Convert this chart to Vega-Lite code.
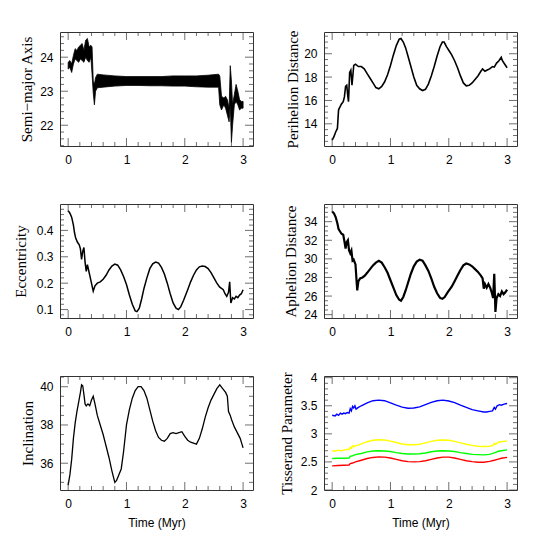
{
"$schema":"https://vega.github.io/schema/vega-lite/v6.json",
"autosize":{"type":"pad"},
"padding":{"left":12,"top":29,"right":5,"bottom":5},
"background":"white",
"config":{"view":{"stroke":"#333","strokeWidth":1},
"tick":{"color":"#333","thickness":1},
"axis":{"grid":false,"domain":false,"ticks":false,"labelFont":"Liberation Sans","labelFontSize":12,"labelColor":"#000","titleFont":"Liberation Serif","titleFontSize":15,"titleFontWeight":"normal","titleColor":"#000","labelOverlap":false,"labelFlush":false}},
"datasets":{
"xt":[{"x":0,"k":"major"},{"x":0.2,"k":"minor"},{"x":0.4,"k":"minor"},{"x":0.6,"k":"minor"},{"x":0.8,"k":"minor"},{"x":1,"k":"major"},{"x":1.2,"k":"minor"},{"x":1.4,"k":"minor"},{"x":1.6,"k":"minor"},{"x":1.8,"k":"minor"},{"x":2,"k":"major"},{"x":2.2,"k":"minor"},{"x":2.4,"k":"minor"},{"x":2.6,"k":"minor"},{"x":2.8,"k":"minor"},{"x":3,"k":"major"}],
"yt_sma":[{"y":21.4,"k":"minor"},{"y":21.6,"k":"minor"},{"y":21.8,"k":"minor"},{"y":22,"k":"major"},{"y":22.2,"k":"minor"},{"y":22.4,"k":"minor"},{"y":22.6,"k":"minor"},{"y":22.8,"k":"minor"},{"y":23,"k":"major"},{"y":23.2,"k":"minor"},{"y":23.4,"k":"minor"},{"y":23.6,"k":"minor"},{"y":23.8,"k":"minor"},{"y":24,"k":"major"},{"y":24.2,"k":"minor"},{"y":24.4,"k":"minor"},{"y":24.6,"k":"minor"}],
"yt_peri":[{"y":12.5,"k":"minor"},{"y":13,"k":"minor"},{"y":13.5,"k":"minor"},{"y":14,"k":"major"},{"y":14.5,"k":"minor"},{"y":15,"k":"minor"},{"y":15.5,"k":"minor"},{"y":16,"k":"major"},{"y":16.5,"k":"minor"},{"y":17,"k":"minor"},{"y":17.5,"k":"minor"},{"y":18,"k":"major"},{"y":18.5,"k":"minor"},{"y":19,"k":"minor"},{"y":19.5,"k":"minor"},{"y":20,"k":"major"},{"y":20.5,"k":"minor"},{"y":21,"k":"minor"},{"y":21.5,"k":"minor"}],
"yt_ecc":[{"y":0.08,"k":"minor"},{"y":0.1,"k":"major"},{"y":0.12,"k":"minor"},{"y":0.14,"k":"minor"},{"y":0.16,"k":"minor"},{"y":0.18,"k":"minor"},{"y":0.2,"k":"major"},{"y":0.22,"k":"minor"},{"y":0.24,"k":"minor"},{"y":0.26,"k":"minor"},{"y":0.28,"k":"minor"},{"y":0.3,"k":"major"},{"y":0.32,"k":"minor"},{"y":0.34,"k":"minor"},{"y":0.36,"k":"minor"},{"y":0.38,"k":"minor"},{"y":0.4,"k":"major"},{"y":0.42,"k":"minor"},{"y":0.44,"k":"minor"},{"y":0.46,"k":"minor"},{"y":0.48,"k":"minor"}],
"yt_aph":[{"y":24,"k":"major"},{"y":24.5,"k":"minor"},{"y":25,"k":"minor"},{"y":25.5,"k":"minor"},{"y":26,"k":"major"},{"y":26.5,"k":"minor"},{"y":27,"k":"minor"},{"y":27.5,"k":"minor"},{"y":28,"k":"major"},{"y":28.5,"k":"minor"},{"y":29,"k":"minor"},{"y":29.5,"k":"minor"},{"y":30,"k":"major"},{"y":30.5,"k":"minor"},{"y":31,"k":"minor"},{"y":31.5,"k":"minor"},{"y":32,"k":"major"},{"y":32.5,"k":"minor"},{"y":33,"k":"minor"},{"y":33.5,"k":"minor"},{"y":34,"k":"major"},{"y":34.5,"k":"minor"},{"y":35,"k":"minor"},{"y":35.5,"k":"minor"}],
"yt_inc":[{"y":35,"k":"minor"},{"y":35.5,"k":"minor"},{"y":36,"k":"major"},{"y":36.5,"k":"minor"},{"y":37,"k":"minor"},{"y":37.5,"k":"minor"},{"y":38,"k":"major"},{"y":38.5,"k":"minor"},{"y":39,"k":"minor"},{"y":39.5,"k":"minor"},{"y":40,"k":"major"},{"y":40.5,"k":"minor"}],
"yt_tis":[{"y":2,"k":"major"},{"y":2.1,"k":"minor"},{"y":2.2,"k":"minor"},{"y":2.3,"k":"minor"},{"y":2.4,"k":"minor"},{"y":2.5,"k":"major"},{"y":2.6,"k":"minor"},{"y":2.7,"k":"minor"},{"y":2.8,"k":"minor"},{"y":2.9,"k":"minor"},{"y":3,"k":"major"},{"y":3.1,"k":"minor"},{"y":3.2,"k":"minor"},{"y":3.3,"k":"minor"},{"y":3.4,"k":"minor"},{"y":3.5,"k":"major"},{"y":3.6,"k":"minor"},{"y":3.7,"k":"minor"},{"y":3.8,"k":"minor"},{"y":3.9,"k":"minor"},{"y":4,"k":"major"}],
"sma":[{"t":0,"lo":23.65,"hi":23.85},{"t":0.03,"lo":23.7,"hi":23.9},{"t":0.06,"lo":23.55,"hi":23.8},{"t":0.09,"lo":23.8,"hi":24.05},{"t":0.12,"lo":23.95,"hi":24.25},{"t":0.15,"lo":23.9,"hi":24.2},{"t":0.18,"lo":23.85,"hi":24.3},{"t":0.21,"lo":23.95,"hi":24.35},{"t":0.24,"lo":23.9,"hi":24.4},{"t":0.27,"lo":23.85,"hi":24.2},{"t":0.3,"lo":24.0,"hi":24.5},{"t":0.33,"lo":23.9,"hi":24.55},{"t":0.36,"lo":23.85,"hi":24.3},{"t":0.39,"lo":24.0,"hi":24.35},{"t":0.41,"lo":23.5,"hi":24.3},{"t":0.43,"lo":22.95,"hi":23.3},{"t":0.45,"lo":22.6,"hi":23.2},{"t":0.47,"lo":23.0,"hi":23.4},{"t":0.5,"lo":23.1,"hi":23.5},{"t":0.6,"lo":23.12,"hi":23.48},{"t":0.8,"lo":23.15,"hi":23.45},{"t":1.0,"lo":23.17,"hi":23.43},{"t":1.2,"lo":23.17,"hi":23.43},{"t":1.4,"lo":23.16,"hi":23.43},{"t":1.6,"lo":23.16,"hi":23.43},{"t":1.8,"lo":23.15,"hi":23.45},{"t":2.0,"lo":23.15,"hi":23.45},{"t":2.2,"lo":23.13,"hi":23.45},{"t":2.4,"lo":23.12,"hi":23.47},{"t":2.58,"lo":23.12,"hi":23.5},{"t":2.6,"lo":22.6,"hi":23.45},{"t":2.63,"lo":22.45,"hi":22.85},{"t":2.67,"lo":22.6,"hi":22.8},{"t":2.7,"lo":22.5,"hi":22.85},{"t":2.73,"lo":22.3,"hi":22.75},{"t":2.76,"lo":22.1,"hi":22.5},{"t":2.78,"lo":22.6,"hi":23.75},{"t":2.8,"lo":21.5,"hi":23.3},{"t":2.82,"lo":22.0,"hi":22.6},{"t":2.85,"lo":22.6,"hi":22.9},{"t":2.88,"lo":22.7,"hi":23.2},{"t":2.91,"lo":22.6,"hi":23.0},{"t":2.94,"lo":22.45,"hi":22.75},{"t":2.97,"lo":22.5,"hi":22.7},{"t":3.0,"lo":22.5,"hi":22.7}],
"peri":[{"t":0,"v":12.6},{"t":0.03,"v":12.9},{"t":0.06,"v":13.3},{"t":0.09,"v":13.6},{"t":0.11,"v":15.2},{"t":0.13,"v":15.4},{"t":0.16,"v":15.7},{"t":0.19,"v":15.9},{"t":0.21,"v":16.3},{"t":0.23,"v":17.2},{"t":0.25,"v":17.3},{"t":0.27,"v":16.3},{"t":0.28,"v":15.9},{"t":0.3,"v":18.4},{"t":0.32,"v":18.6},{"t":0.34,"v":17.3},{"t":0.37,"v":19.0},{"t":0.4,"v":19.1},{"t":0.45,"v":18.9},{"t":0.5,"v":18.9},{"t":0.55,"v":18.7},{"t":0.6,"v":18.3},{"t":0.65,"v":17.9},{"t":0.7,"v":17.5},{"t":0.75,"v":17.1},{"t":0.8,"v":17.0},{"t":0.85,"v":17.2},{"t":0.9,"v":17.6},{"t":0.95,"v":18.2},{"t":1.0,"v":19.0},{"t":1.05,"v":19.9},{"t":1.1,"v":20.7},{"t":1.15,"v":21.25},{"t":1.18,"v":21.3},{"t":1.22,"v":21.0},{"t":1.26,"v":20.5},{"t":1.3,"v":19.8},{"t":1.35,"v":18.9},{"t":1.4,"v":18.0},{"t":1.45,"v":17.3},{"t":1.5,"v":17.0},{"t":1.55,"v":16.85},{"t":1.6,"v":16.95},{"t":1.65,"v":17.4},{"t":1.7,"v":18.1},{"t":1.75,"v":18.9},{"t":1.8,"v":19.8},{"t":1.85,"v":20.6},{"t":1.89,"v":21.0},{"t":1.92,"v":21.0},{"t":1.96,"v":20.6},{"t":2.0,"v":20.3},{"t":2.05,"v":19.9},{"t":2.1,"v":19.4},{"t":2.15,"v":18.8},{"t":2.2,"v":18.1},{"t":2.25,"v":17.5},{"t":2.3,"v":17.25},{"t":2.35,"v":17.3},{"t":2.4,"v":17.5},{"t":2.45,"v":17.8},{"t":2.5,"v":18.1},{"t":2.55,"v":18.5},{"t":2.58,"v":18.7},{"t":2.62,"v":18.5},{"t":2.66,"v":18.6},{"t":2.7,"v":18.7},{"t":2.75,"v":18.9},{"t":2.78,"v":18.85},{"t":2.82,"v":19.2},{"t":2.86,"v":19.4},{"t":2.9,"v":19.7},{"t":2.92,"v":19.4},{"t":2.96,"v":19.1},{"t":3.0,"v":18.8}],
"ecc":[{"t":0,"v":0.475},{"t":0.03,"v":0.465},{"t":0.06,"v":0.45},{"t":0.09,"v":0.42},{"t":0.11,"v":0.39},{"t":0.13,"v":0.37},{"t":0.16,"v":0.355},{"t":0.19,"v":0.345},{"t":0.21,"v":0.33},{"t":0.23,"v":0.29},{"t":0.25,"v":0.32},{"t":0.27,"v":0.335},{"t":0.29,"v":0.28},{"t":0.31,"v":0.245},{"t":0.33,"v":0.27},{"t":0.35,"v":0.25},{"t":0.38,"v":0.22},{"t":0.41,"v":0.19},{"t":0.43,"v":0.17},{"t":0.46,"v":0.19},{"t":0.5,"v":0.2},{"t":0.55,"v":0.205},{"t":0.6,"v":0.215},{"t":0.65,"v":0.23},{"t":0.7,"v":0.25},{"t":0.75,"v":0.265},{"t":0.8,"v":0.272},{"t":0.85,"v":0.268},{"t":0.9,"v":0.25},{"t":0.95,"v":0.225},{"t":1.0,"v":0.195},{"t":1.05,"v":0.155},{"t":1.1,"v":0.12},{"t":1.15,"v":0.095},{"t":1.18,"v":0.092},{"t":1.22,"v":0.105},{"t":1.26,"v":0.14},{"t":1.3,"v":0.18},{"t":1.35,"v":0.22},{"t":1.4,"v":0.255},{"t":1.45,"v":0.273},{"t":1.5,"v":0.28},{"t":1.55,"v":0.276},{"t":1.6,"v":0.26},{"t":1.65,"v":0.235},{"t":1.7,"v":0.2},{"t":1.75,"v":0.16},{"t":1.8,"v":0.125},{"t":1.85,"v":0.105},{"t":1.89,"v":0.1},{"t":1.93,"v":0.11},{"t":1.98,"v":0.135},{"t":2.05,"v":0.175},{"t":2.1,"v":0.205},{"t":2.15,"v":0.23},{"t":2.2,"v":0.25},{"t":2.25,"v":0.262},{"t":2.3,"v":0.265},{"t":2.35,"v":0.263},{"t":2.4,"v":0.255},{"t":2.45,"v":0.24},{"t":2.5,"v":0.22},{"t":2.55,"v":0.2},{"t":2.6,"v":0.185},{"t":2.63,"v":0.18},{"t":2.66,"v":0.175},{"t":2.69,"v":0.16},{"t":2.72,"v":0.15},{"t":2.75,"v":0.165},{"t":2.77,"v":0.205},{"t":2.79,"v":0.125},{"t":2.82,"v":0.145},{"t":2.85,"v":0.14},{"t":2.88,"v":0.15},{"t":2.91,"v":0.145},{"t":2.94,"v":0.155},{"t":2.97,"v":0.16},{"t":3.0,"v":0.175}],
"aph":[{"t":0,"v":35.1},{"t":0.03,"v":34.9},{"t":0.06,"v":34.5},{"t":0.09,"v":33.8},{"t":0.11,"v":33.2},{"t":0.13,"v":33.0},{"t":0.16,"v":32.7},{"t":0.19,"v":32.6},{"t":0.21,"v":31.9},{"t":0.23,"v":31.1},{"t":0.25,"v":31.8},{"t":0.27,"v":32.0},{"t":0.29,"v":30.9},{"t":0.31,"v":30.6},{"t":0.33,"v":30.9},{"t":0.35,"v":29.8},{"t":0.37,"v":29.9},{"t":0.4,"v":29.4},{"t":0.42,"v":27.5},{"t":0.43,"v":26.6},{"t":0.45,"v":27.6},{"t":0.48,"v":27.9},{"t":0.52,"v":28.0},{"t":0.56,"v":28.2},{"t":0.6,"v":28.5},{"t":0.65,"v":28.9},{"t":0.7,"v":29.3},{"t":0.75,"v":29.6},{"t":0.8,"v":29.8},{"t":0.85,"v":29.6},{"t":0.9,"v":29.1},{"t":0.95,"v":28.5},{"t":1.0,"v":27.7},{"t":1.05,"v":26.9},{"t":1.1,"v":26.1},{"t":1.15,"v":25.6},{"t":1.18,"v":25.5},{"t":1.22,"v":25.9},{"t":1.26,"v":26.6},{"t":1.3,"v":27.4},{"t":1.35,"v":28.4},{"t":1.4,"v":29.2},{"t":1.45,"v":29.7},{"t":1.5,"v":29.9},{"t":1.55,"v":29.8},{"t":1.6,"v":29.3},{"t":1.65,"v":28.7},{"t":1.7,"v":27.9},{"t":1.75,"v":27.0},{"t":1.8,"v":26.3},{"t":1.85,"v":25.8},{"t":1.89,"v":25.7},{"t":1.93,"v":25.9},{"t":1.98,"v":26.4},{"t":2.05,"v":27.0},{"t":2.1,"v":27.6},{"t":2.15,"v":28.2},{"t":2.2,"v":28.8},{"t":2.25,"v":29.3},{"t":2.3,"v":29.5},{"t":2.35,"v":29.4},{"t":2.4,"v":29.2},{"t":2.45,"v":28.9},{"t":2.5,"v":28.6},{"t":2.55,"v":28.2},{"t":2.58,"v":27.9},{"t":2.6,"v":26.8},{"t":2.62,"v":27.3},{"t":2.65,"v":26.9},{"t":2.68,"v":27.3},{"t":2.71,"v":26.9},{"t":2.74,"v":26.3},{"t":2.76,"v":25.8},{"t":2.78,"v":28.4},{"t":2.8,"v":24.3},{"t":2.82,"v":25.8},{"t":2.85,"v":26.2},{"t":2.88,"v":26.0},{"t":2.91,"v":26.5},{"t":2.94,"v":26.2},{"t":2.97,"v":26.4},{"t":3.0,"v":26.7}],
"inc":[{"t":0,"v":34.85},{"t":0.03,"v":35.4},{"t":0.06,"v":36.2},{"t":0.09,"v":37.3},{"t":0.12,"v":38.1},{"t":0.15,"v":38.7},{"t":0.18,"v":39.2},{"t":0.21,"v":39.7},{"t":0.23,"v":40.1},{"t":0.25,"v":40.05},{"t":0.27,"v":39.6},{"t":0.29,"v":39.1},{"t":0.31,"v":39.0},{"t":0.34,"v":39.1},{"t":0.37,"v":39.0},{"t":0.4,"v":39.3},{"t":0.43,"v":39.5},{"t":0.46,"v":39.1},{"t":0.5,"v":38.5},{"t":0.55,"v":38.0},{"t":0.6,"v":37.5},{"t":0.65,"v":36.9},{"t":0.7,"v":36.3},{"t":0.75,"v":35.6},{"t":0.8,"v":35.0},{"t":0.83,"v":35.1},{"t":0.87,"v":35.4},{"t":0.91,"v":35.7},{"t":0.95,"v":36.6},{"t":1.0,"v":38.0},{"t":1.05,"v":38.8},{"t":1.1,"v":39.4},{"t":1.15,"v":39.8},{"t":1.2,"v":40.0},{"t":1.25,"v":40.0},{"t":1.3,"v":39.8},{"t":1.35,"v":39.4},{"t":1.4,"v":38.8},{"t":1.45,"v":38.2},{"t":1.5,"v":37.7},{"t":1.55,"v":37.35},{"t":1.6,"v":37.2},{"t":1.65,"v":37.15},{"t":1.7,"v":37.3},{"t":1.75,"v":37.55},{"t":1.8,"v":37.6},{"t":1.85,"v":37.55},{"t":1.9,"v":37.6},{"t":1.95,"v":37.65},{"t":2.0,"v":37.4},{"t":2.05,"v":37.2},{"t":2.1,"v":37.1},{"t":2.15,"v":37.05},{"t":2.2,"v":37.0},{"t":2.25,"v":37.3},{"t":2.3,"v":37.8},{"t":2.35,"v":38.4},{"t":2.4,"v":38.9},{"t":2.45,"v":39.3},{"t":2.5,"v":39.6},{"t":2.55,"v":39.9},{"t":2.6,"v":40.1},{"t":2.65,"v":39.9},{"t":2.7,"v":39.7},{"t":2.73,"v":39.5},{"t":2.75,"v":38.7},{"t":2.78,"v":38.5},{"t":2.8,"v":38.3},{"t":2.85,"v":37.9},{"t":2.9,"v":37.6},{"t":2.95,"v":37.3},{"t":3.0,"v":36.8}],
"tis":[
{"s":"a","t":0,"v":3.33},{"s":"a","t":0.05,"v":3.32},{"s":"a","t":0.08,"v":3.35},{"s":"a","t":0.11,"v":3.33},{"s":"a","t":0.14,"v":3.37},{"s":"a","t":0.17,"v":3.35},{"s":"a","t":0.2,"v":3.37},{"s":"a","t":0.23,"v":3.36},{"s":"a","t":0.26,"v":3.38},{"s":"a","t":0.29,"v":3.37},{"s":"a","t":0.31,"v":3.45},{"s":"a","t":0.33,"v":3.41},{"s":"a","t":0.35,"v":3.49},{"s":"a","t":0.37,"v":3.46},{"s":"a","t":0.39,"v":3.5},{"s":"a","t":0.41,"v":3.44},{"s":"a","t":0.45,"v":3.47},{"s":"a","t":0.5,"v":3.5},{"s":"a","t":0.6,"v":3.55},{"s":"a","t":0.7,"v":3.59},{"s":"a","t":0.8,"v":3.6},{"s":"a","t":0.9,"v":3.59},{"s":"a","t":1.0,"v":3.55},{"s":"a","t":1.1,"v":3.51},{"s":"a","t":1.2,"v":3.475},{"s":"a","t":1.3,"v":3.455},{"s":"a","t":1.4,"v":3.46},{"s":"a","t":1.5,"v":3.48},{"s":"a","t":1.6,"v":3.52},{"s":"a","t":1.7,"v":3.56},{"s":"a","t":1.8,"v":3.59},{"s":"a","t":1.9,"v":3.6},{"s":"a","t":2.0,"v":3.585},{"s":"a","t":2.1,"v":3.555},{"s":"a","t":2.2,"v":3.51},{"s":"a","t":2.3,"v":3.47},{"s":"a","t":2.4,"v":3.43},{"s":"a","t":2.5,"v":3.41},{"s":"a","t":2.6,"v":3.39},{"s":"a","t":2.65,"v":3.39},{"s":"a","t":2.7,"v":3.4},{"s":"a","t":2.75,"v":3.41},{"s":"a","t":2.78,"v":3.47},{"s":"a","t":2.8,"v":3.44},{"s":"a","t":2.83,"v":3.5},{"s":"a","t":2.87,"v":3.52},{"s":"a","t":2.9,"v":3.51},{"s":"a","t":2.95,"v":3.53},{"s":"a","t":3.0,"v":3.54},
{"s":"b","t":0,"v":2.7},{"s":"b","t":0.05,"v":2.69},{"s":"b","t":0.1,"v":2.71},{"s":"b","t":0.15,"v":2.7},{"s":"b","t":0.2,"v":2.71},{"s":"b","t":0.25,"v":2.72},{"s":"b","t":0.29,"v":2.72},{"s":"b","t":0.31,"v":2.76},{"s":"b","t":0.33,"v":2.74},{"s":"b","t":0.35,"v":2.79},{"s":"b","t":0.37,"v":2.77},{"s":"b","t":0.4,"v":2.79},{"s":"b","t":0.45,"v":2.8},{"s":"b","t":0.5,"v":2.82},{"s":"b","t":0.6,"v":2.86},{"s":"b","t":0.7,"v":2.885},{"s":"b","t":0.8,"v":2.895},{"s":"b","t":0.9,"v":2.89},{"s":"b","t":1.0,"v":2.87},{"s":"b","t":1.1,"v":2.845},{"s":"b","t":1.2,"v":2.82},{"s":"b","t":1.3,"v":2.805},{"s":"b","t":1.4,"v":2.805},{"s":"b","t":1.5,"v":2.815},{"s":"b","t":1.6,"v":2.84},{"s":"b","t":1.7,"v":2.865},{"s":"b","t":1.8,"v":2.885},{"s":"b","t":1.9,"v":2.89},{"s":"b","t":2.0,"v":2.885},{"s":"b","t":2.1,"v":2.865},{"s":"b","t":2.2,"v":2.84},{"s":"b","t":2.3,"v":2.815},{"s":"b","t":2.4,"v":2.795},{"s":"b","t":2.5,"v":2.78},{"s":"b","t":2.6,"v":2.775},{"s":"b","t":2.7,"v":2.78},{"s":"b","t":2.75,"v":2.79},{"s":"b","t":2.78,"v":2.83},{"s":"b","t":2.8,"v":2.81},{"s":"b","t":2.85,"v":2.85},{"s":"b","t":2.9,"v":2.86},{"s":"b","t":3.0,"v":2.875},
{"s":"c","t":0,"v":2.56},{"s":"c","t":0.1,"v":2.565},{"s":"c","t":0.2,"v":2.565},{"s":"c","t":0.29,"v":2.57},{"s":"c","t":0.31,"v":2.6},{"s":"c","t":0.35,"v":2.61},{"s":"c","t":0.4,"v":2.63},{"s":"c","t":0.5,"v":2.65},{"s":"c","t":0.6,"v":2.68},{"s":"c","t":0.7,"v":2.695},{"s":"c","t":0.8,"v":2.7},{"s":"c","t":0.9,"v":2.695},{"s":"c","t":1.0,"v":2.685},{"s":"c","t":1.1,"v":2.665},{"s":"c","t":1.2,"v":2.65},{"s":"c","t":1.3,"v":2.64},{"s":"c","t":1.4,"v":2.64},{"s":"c","t":1.5,"v":2.645},{"s":"c","t":1.6,"v":2.66},{"s":"c","t":1.7,"v":2.68},{"s":"c","t":1.8,"v":2.695},{"s":"c","t":1.9,"v":2.7},{"s":"c","t":2.0,"v":2.695},{"s":"c","t":2.1,"v":2.685},{"s":"c","t":2.2,"v":2.665},{"s":"c","t":2.3,"v":2.65},{"s":"c","t":2.4,"v":2.635},{"s":"c","t":2.5,"v":2.63},{"s":"c","t":2.6,"v":2.625},{"s":"c","t":2.7,"v":2.635},{"s":"c","t":2.78,"v":2.66},{"s":"c","t":2.85,"v":2.69},{"s":"c","t":2.9,"v":2.7},{"s":"c","t":3.0,"v":2.715},
{"s":"d","t":0,"v":2.43},{"s":"d","t":0.1,"v":2.435},{"s":"d","t":0.2,"v":2.44},{"s":"d","t":0.29,"v":2.445},{"s":"d","t":0.31,"v":2.47},{"s":"d","t":0.35,"v":2.48},{"s":"d","t":0.4,"v":2.5},{"s":"d","t":0.5,"v":2.53},{"s":"d","t":0.6,"v":2.56},{"s":"d","t":0.7,"v":2.58},{"s":"d","t":0.8,"v":2.59},{"s":"d","t":0.9,"v":2.585},{"s":"d","t":1.0,"v":2.57},{"s":"d","t":1.1,"v":2.545},{"s":"d","t":1.2,"v":2.52},{"s":"d","t":1.3,"v":2.505},{"s":"d","t":1.4,"v":2.5},{"s":"d","t":1.5,"v":2.505},{"s":"d","t":1.6,"v":2.52},{"s":"d","t":1.7,"v":2.545},{"s":"d","t":1.8,"v":2.57},{"s":"d","t":1.9,"v":2.585},{"s":"d","t":2.0,"v":2.585},{"s":"d","t":2.1,"v":2.57},{"s":"d","t":2.2,"v":2.545},{"s":"d","t":2.3,"v":2.52},{"s":"d","t":2.4,"v":2.505},{"s":"d","t":2.5,"v":2.495},{"s":"d","t":2.6,"v":2.495},{"s":"d","t":2.7,"v":2.51},{"s":"d","t":2.78,"v":2.53},{"s":"d","t":2.85,"v":2.55},{"s":"d","t":2.9,"v":2.565},{"s":"d","t":3.0,"v":2.58}]
},
"columns":2,
"bounds":"flush",
"spacing":{"row":58,"column":71},
"concat":[
{"width":193,"height":114,
"resolve":{"axis":{"x":"independent","y":"independent"}},
"layer":[
{"data":{"name":"sma"},"mark":{"type":"area","fill":"#000","stroke":"#000","strokeWidth":0.8},
"encoding":{
"x":{"field":"t","type":"quantitative","scale":{"domain":[-0.14,3.17],"nice":false,"zero":false},"axis":{"values":[0,1,2,3],"format":"d","labelPadding":8,"title":null}},
"y":{"field":"lo","type":"quantitative","scale":{"domain":[21.39,24.74],"nice":false,"zero":false},"axis":{"values":[22,23,24],"format":"d","labelPadding":7,"titlePadding":5,"title":"Semi−major Axis"}},
"y2":{"field":"hi"}}},
{"data":{"name":"xt"},"mark":{"type":"tick","orient":"vertical","clip":true},"encoding":{"x":{"field":"x","type":"quantitative","scale":{"domain":[-0.14,3.17],"nice":false,"zero":false},"axis":null},"y":{"datum":21.39,"type":"quantitative","scale":{"domain":[21.39,24.74],"nice":false,"zero":false},"axis":null},"size":{"field":"k","type":"ordinal","scale":{"domain":["major","minor"],"range":[16,8]},"legend":null}}},
{"data":{"name":"xt"},"mark":{"type":"tick","orient":"vertical","clip":true},"encoding":{"x":{"field":"x","type":"quantitative","scale":{"domain":[-0.14,3.17],"nice":false,"zero":false},"axis":null},"y":{"datum":24.74,"type":"quantitative","scale":{"domain":[21.39,24.74],"nice":false,"zero":false},"axis":null},"size":{"field":"k","type":"ordinal","scale":{"domain":["major","minor"],"range":[16,8]},"legend":null}}},
{"data":{"name":"yt_sma"},"mark":{"type":"tick","orient":"horizontal","clip":true},"encoding":{"y":{"field":"y","type":"quantitative","scale":{"domain":[21.39,24.74],"nice":false,"zero":false},"axis":null},"x":{"datum":-0.14,"type":"quantitative","scale":{"domain":[-0.14,3.17],"nice":false,"zero":false},"axis":null},"size":{"field":"k","type":"ordinal","scale":{"domain":["major","minor"],"range":[16,8]},"legend":null}}},
{"data":{"name":"yt_sma"},"mark":{"type":"tick","orient":"horizontal","clip":true},"encoding":{"y":{"field":"y","type":"quantitative","scale":{"domain":[21.39,24.74],"nice":false,"zero":false},"axis":null},"x":{"datum":3.17,"type":"quantitative","scale":{"domain":[-0.14,3.17],"nice":false,"zero":false},"axis":null},"size":{"field":"k","type":"ordinal","scale":{"domain":["major","minor"],"range":[16,8]},"legend":null}}}
]},

{"width":193,"height":114,
"resolve":{"axis":{"x":"independent","y":"independent"}},
"layer":[
{"data":{"name":"peri"},"mark":{"type":"line","color":"#000","strokeWidth":1.6},
"encoding":{
"x":{"field":"t","type":"quantitative","scale":{"domain":[-0.14,3.17],"nice":false,"zero":false},"axis":{"values":[0,1,2,3],"format":"d","labelPadding":8,"title":null}},
"y":{"field":"v","type":"quantitative","scale":{"domain":[12.1,21.86],"nice":false,"zero":false},"axis":{"values":[14,16,18,20],"format":"d","labelPadding":7,"titlePadding":3,"title":"Perihelion Distance"}}}},
{"data":{"name":"xt"},"mark":{"type":"tick","orient":"vertical","clip":true},"encoding":{"x":{"field":"x","type":"quantitative","scale":{"domain":[-0.14,3.17],"nice":false,"zero":false},"axis":null},"y":{"datum":12.1,"type":"quantitative","scale":{"domain":[12.1,21.86],"nice":false,"zero":false},"axis":null},"size":{"field":"k","type":"ordinal","scale":{"domain":["major","minor"],"range":[16,8]},"legend":null}}},
{"data":{"name":"xt"},"mark":{"type":"tick","orient":"vertical","clip":true},"encoding":{"x":{"field":"x","type":"quantitative","scale":{"domain":[-0.14,3.17],"nice":false,"zero":false},"axis":null},"y":{"datum":21.86,"type":"quantitative","scale":{"domain":[12.1,21.86],"nice":false,"zero":false},"axis":null},"size":{"field":"k","type":"ordinal","scale":{"domain":["major","minor"],"range":[16,8]},"legend":null}}},
{"data":{"name":"yt_peri"},"mark":{"type":"tick","orient":"horizontal","clip":true},"encoding":{"y":{"field":"y","type":"quantitative","scale":{"domain":[12.1,21.86],"nice":false,"zero":false},"axis":null},"x":{"datum":-0.14,"type":"quantitative","scale":{"domain":[-0.14,3.17],"nice":false,"zero":false},"axis":null},"size":{"field":"k","type":"ordinal","scale":{"domain":["major","minor"],"range":[16,8]},"legend":null}}},
{"data":{"name":"yt_peri"},"mark":{"type":"tick","orient":"horizontal","clip":true},"encoding":{"y":{"field":"y","type":"quantitative","scale":{"domain":[12.1,21.86],"nice":false,"zero":false},"axis":null},"x":{"datum":3.17,"type":"quantitative","scale":{"domain":[-0.14,3.17],"nice":false,"zero":false},"axis":null},"size":{"field":"k","type":"ordinal","scale":{"domain":["major","minor"],"range":[16,8]},"legend":null}}}
]},

{"width":193,"height":114,
"resolve":{"axis":{"x":"independent","y":"independent"}},
"layer":[
{"data":{"name":"ecc"},"mark":{"type":"line","color":"#000","strokeWidth":1.5},
"encoding":{
"x":{"field":"t","type":"quantitative","scale":{"domain":[-0.14,3.17],"nice":false,"zero":false},"axis":{"values":[0,1,2,3],"format":"d","labelPadding":8,"title":null}},
"y":{"field":"v","type":"quantitative","scale":{"domain":[0.068,0.5],"nice":false,"zero":false},"axis":{"values":[0.1,0.2,0.3,0.4],"format":".1f","labelPadding":7,"titlePadding":8,"title":"Eccentricity"}}}},
{"data":{"name":"xt"},"mark":{"type":"tick","orient":"vertical","clip":true},"encoding":{"x":{"field":"x","type":"quantitative","scale":{"domain":[-0.14,3.17],"nice":false,"zero":false},"axis":null},"y":{"datum":0.068,"type":"quantitative","scale":{"domain":[0.068,0.5],"nice":false,"zero":false},"axis":null},"size":{"field":"k","type":"ordinal","scale":{"domain":["major","minor"],"range":[16,8]},"legend":null}}},
{"data":{"name":"xt"},"mark":{"type":"tick","orient":"vertical","clip":true},"encoding":{"x":{"field":"x","type":"quantitative","scale":{"domain":[-0.14,3.17],"nice":false,"zero":false},"axis":null},"y":{"datum":0.5,"type":"quantitative","scale":{"domain":[0.068,0.5],"nice":false,"zero":false},"axis":null},"size":{"field":"k","type":"ordinal","scale":{"domain":["major","minor"],"range":[16,8]},"legend":null}}},
{"data":{"name":"yt_ecc"},"mark":{"type":"tick","orient":"horizontal","clip":true},"encoding":{"y":{"field":"y","type":"quantitative","scale":{"domain":[0.068,0.5],"nice":false,"zero":false},"axis":null},"x":{"datum":-0.14,"type":"quantitative","scale":{"domain":[-0.14,3.17],"nice":false,"zero":false},"axis":null},"size":{"field":"k","type":"ordinal","scale":{"domain":["major","minor"],"range":[16,8]},"legend":null}}},
{"data":{"name":"yt_ecc"},"mark":{"type":"tick","orient":"horizontal","clip":true},"encoding":{"y":{"field":"y","type":"quantitative","scale":{"domain":[0.068,0.5],"nice":false,"zero":false},"axis":null},"x":{"datum":3.17,"type":"quantitative","scale":{"domain":[-0.14,3.17],"nice":false,"zero":false},"axis":null},"size":{"field":"k","type":"ordinal","scale":{"domain":["major","minor"],"range":[16,8]},"legend":null}}}
]},

{"width":193,"height":114,
"resolve":{"axis":{"x":"independent","y":"independent"}},
"layer":[
{"data":{"name":"aph"},"mark":{"type":"line","color":"#000","strokeWidth":2.2},
"encoding":{
"x":{"field":"t","type":"quantitative","scale":{"domain":[-0.14,3.17],"nice":false,"zero":false},"axis":{"values":[0,1,2,3],"format":"d","labelPadding":8,"title":null}},
"y":{"field":"v","type":"quantitative","scale":{"domain":[23.64,35.9],"nice":false,"zero":false},"axis":{"values":[24,26,28,30,32,34],"format":"d","labelPadding":7,"titlePadding":5,"title":"Aphelion Distance"}}}},
{"data":{"name":"xt"},"mark":{"type":"tick","orient":"vertical","clip":true},"encoding":{"x":{"field":"x","type":"quantitative","scale":{"domain":[-0.14,3.17],"nice":false,"zero":false},"axis":null},"y":{"datum":23.64,"type":"quantitative","scale":{"domain":[23.64,35.9],"nice":false,"zero":false},"axis":null},"size":{"field":"k","type":"ordinal","scale":{"domain":["major","minor"],"range":[16,8]},"legend":null}}},
{"data":{"name":"xt"},"mark":{"type":"tick","orient":"vertical","clip":true},"encoding":{"x":{"field":"x","type":"quantitative","scale":{"domain":[-0.14,3.17],"nice":false,"zero":false},"axis":null},"y":{"datum":35.9,"type":"quantitative","scale":{"domain":[23.64,35.9],"nice":false,"zero":false},"axis":null},"size":{"field":"k","type":"ordinal","scale":{"domain":["major","minor"],"range":[16,8]},"legend":null}}},
{"data":{"name":"yt_aph"},"mark":{"type":"tick","orient":"horizontal","clip":true},"encoding":{"y":{"field":"y","type":"quantitative","scale":{"domain":[23.64,35.9],"nice":false,"zero":false},"axis":null},"x":{"datum":-0.14,"type":"quantitative","scale":{"domain":[-0.14,3.17],"nice":false,"zero":false},"axis":null},"size":{"field":"k","type":"ordinal","scale":{"domain":["major","minor"],"range":[16,8]},"legend":null}}},
{"data":{"name":"yt_aph"},"mark":{"type":"tick","orient":"horizontal","clip":true},"encoding":{"y":{"field":"y","type":"quantitative","scale":{"domain":[23.64,35.9],"nice":false,"zero":false},"axis":null},"x":{"datum":3.17,"type":"quantitative","scale":{"domain":[-0.14,3.17],"nice":false,"zero":false},"axis":null},"size":{"field":"k","type":"ordinal","scale":{"domain":["major","minor"],"range":[16,8]},"legend":null}}}
]},

{"width":193,"height":114,
"resolve":{"axis":{"x":"independent","y":"independent"}},
"layer":[
{"data":{"name":"inc"},"mark":{"type":"line","color":"#000","strokeWidth":1.3},
"encoding":{
"x":{"field":"t","type":"quantitative","scale":{"domain":[-0.14,3.17],"nice":false,"zero":false},"axis":{"values":[0,1,2,3],"format":"d","labelPadding":8,"titlePadding":8,"title":"Time (Myr)","titleFont":"Liberation Sans","titleFontSize":12,"titleFontWeight":"normal"}},
"y":{"field":"v","type":"quantitative","scale":{"domain":[34.6,40.56],"nice":false,"zero":false},"axis":{"values":[36,38,40],"format":"d","labelPadding":7,"titlePadding":4,"title":"Inclination"}}}},
{"data":{"name":"xt"},"mark":{"type":"tick","orient":"vertical","clip":true},"encoding":{"x":{"field":"x","type":"quantitative","scale":{"domain":[-0.14,3.17],"nice":false,"zero":false},"axis":null},"y":{"datum":34.6,"type":"quantitative","scale":{"domain":[34.6,40.56],"nice":false,"zero":false},"axis":null},"size":{"field":"k","type":"ordinal","scale":{"domain":["major","minor"],"range":[16,8]},"legend":null}}},
{"data":{"name":"xt"},"mark":{"type":"tick","orient":"vertical","clip":true},"encoding":{"x":{"field":"x","type":"quantitative","scale":{"domain":[-0.14,3.17],"nice":false,"zero":false},"axis":null},"y":{"datum":40.56,"type":"quantitative","scale":{"domain":[34.6,40.56],"nice":false,"zero":false},"axis":null},"size":{"field":"k","type":"ordinal","scale":{"domain":["major","minor"],"range":[16,8]},"legend":null}}},
{"data":{"name":"yt_inc"},"mark":{"type":"tick","orient":"horizontal","clip":true},"encoding":{"y":{"field":"y","type":"quantitative","scale":{"domain":[34.6,40.56],"nice":false,"zero":false},"axis":null},"x":{"datum":-0.14,"type":"quantitative","scale":{"domain":[-0.14,3.17],"nice":false,"zero":false},"axis":null},"size":{"field":"k","type":"ordinal","scale":{"domain":["major","minor"],"range":[16,8]},"legend":null}}},
{"data":{"name":"yt_inc"},"mark":{"type":"tick","orient":"horizontal","clip":true},"encoding":{"y":{"field":"y","type":"quantitative","scale":{"domain":[34.6,40.56],"nice":false,"zero":false},"axis":null},"x":{"datum":3.17,"type":"quantitative","scale":{"domain":[-0.14,3.17],"nice":false,"zero":false},"axis":null},"size":{"field":"k","type":"ordinal","scale":{"domain":["major","minor"],"range":[16,8]},"legend":null}}}
]},

{"width":193,"height":114,
"resolve":{"axis":{"x":"independent","y":"independent"}},
"layer":[
{"data":{"name":"tis"},"mark":{"type":"line","strokeWidth":1.4},
"encoding":{
"x":{"field":"t","type":"quantitative","scale":{"domain":[-0.14,3.17],"nice":false,"zero":false},"axis":{"values":[0,1,2,3],"format":"d","labelPadding":8,"titlePadding":8,"title":"Time (Myr)","titleFont":"Liberation Sans","titleFontSize":12,"titleFontWeight":"normal"}},
"y":{"field":"v","type":"quantitative","scale":{"domain":[2,4.03],"nice":false,"zero":false},"axis":{"values":[2,2.5,3,3.5,4],"format":"~g","labelPadding":7,"titlePadding":6,"title":"Tisserand Parameter"}},
"color":{"field":"s","type":"nominal","scale":{"domain":["a","b","c","d"],"range":["#0000ff","#ffff00","#00ff00","#ff0000"]},"legend":null}}},
{"data":{"name":"xt"},"mark":{"type":"tick","orient":"vertical","clip":true},"encoding":{"x":{"field":"x","type":"quantitative","scale":{"domain":[-0.14,3.17],"nice":false,"zero":false},"axis":null},"y":{"datum":2,"type":"quantitative","scale":{"domain":[2,4.03],"nice":false,"zero":false},"axis":null},"size":{"field":"k","type":"ordinal","scale":{"domain":["major","minor"],"range":[16,8]},"legend":null}}},
{"data":{"name":"xt"},"mark":{"type":"tick","orient":"vertical","clip":true},"encoding":{"x":{"field":"x","type":"quantitative","scale":{"domain":[-0.14,3.17],"nice":false,"zero":false},"axis":null},"y":{"datum":4.03,"type":"quantitative","scale":{"domain":[2,4.03],"nice":false,"zero":false},"axis":null},"size":{"field":"k","type":"ordinal","scale":{"domain":["major","minor"],"range":[16,8]},"legend":null}}},
{"data":{"name":"yt_tis"},"mark":{"type":"tick","orient":"horizontal","clip":true},"encoding":{"y":{"field":"y","type":"quantitative","scale":{"domain":[2,4.03],"nice":false,"zero":false},"axis":null},"x":{"datum":-0.14,"type":"quantitative","scale":{"domain":[-0.14,3.17],"nice":false,"zero":false},"axis":null},"size":{"field":"k","type":"ordinal","scale":{"domain":["major","minor"],"range":[16,8]},"legend":null}}},
{"data":{"name":"yt_tis"},"mark":{"type":"tick","orient":"horizontal","clip":true},"encoding":{"y":{"field":"y","type":"quantitative","scale":{"domain":[2,4.03],"nice":false,"zero":false},"axis":null},"x":{"datum":3.17,"type":"quantitative","scale":{"domain":[-0.14,3.17],"nice":false,"zero":false},"axis":null},"size":{"field":"k","type":"ordinal","scale":{"domain":["major","minor"],"range":[16,8]},"legend":null}}}
]}
]
}
